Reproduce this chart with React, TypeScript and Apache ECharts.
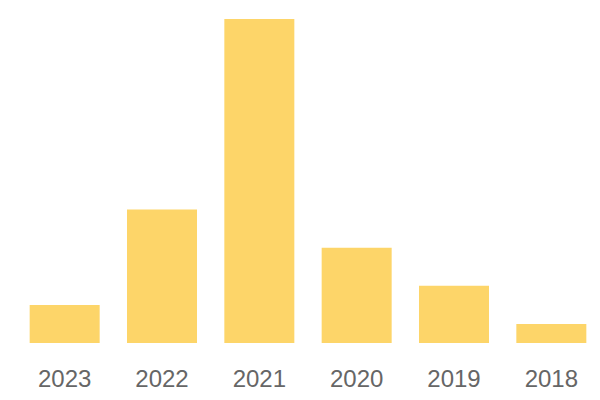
import React, { useEffect, useRef } from "react";
import * as echarts from "echarts";

const categories = ["2023", "2022", "2021", "2020", "2019", "2018"];
const values = [2, 7, 17, 5, 3, 1];

export default function App() {
  const ref = useRef<HTMLDivElement>(null);
  useEffect(() => {
    const chart = echarts.init(ref.current!, null, { renderer: "svg" });
    chart.setOption({
      animation: false,
      grid: { left: 16, right: 0, top: 19, bottom: 57 },
      xAxis: {
        type: "category",
        data: categories,
        axisLine: { show: false },
        axisTick: { show: false },
        axisLabel: { color: "#666", fontSize: 24, fontFamily: "Liberation Sans", margin: 23 },
      },
      yAxis: { type: "value", min: 0, max: 17, show: false, splitLine: { show: false } },
      series: [
        {
          type: "bar",
          data: values,
          barWidth: 70,
          itemStyle: { color: "#fdd569" },
        },
      ],
    });
    return () => chart.dispose();
  }, []);
  return <div ref={ref} style={{ width: 600, height: 400, position: "absolute", left: 0, top: 0 }} />;
}
